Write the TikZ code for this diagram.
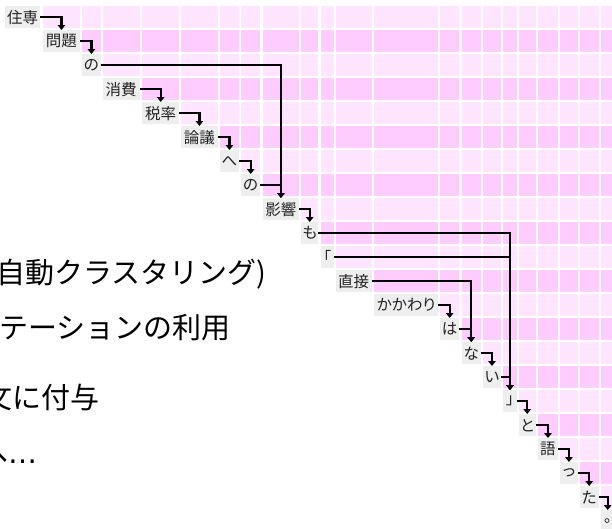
\documentclass[tikz,border=0pt]{standalone}
\usepackage{fontspec}
\newfontfamily\jpw[RawFeature=+palt]{Noto Sans CJK JP}
\newfontfamily\jpb{Noto Sans CJK JP}
\newfontfamily\dvs{DejaVu Sans}
\usetikzlibrary{arrows.meta}
\definecolor{cellA}{HTML}{FFE5FF}
\definecolor{cellB}{HTML}{FFCCFF}
\definecolor{wordbg}{HTML}{EEEEEE}
\definecolor{inkc}{HTML}{222222}
\begin{document}
\begin{tikzpicture}[x=1pt,y=-1pt,
  word/.style={fill=wordbg, anchor=north west, minimum height=22pt, inner sep=0pt, text=inkc, font=\jpw\fontsize{15.5}{15.5}\selectfont},
  dep/.style={draw=black, line width=2.3pt, -{Triangle[length=5pt,width=7.5pt]}},
  big/.style={anchor=base west, inner sep=0pt, font=\jpb\fontsize{29}{29}\selectfont, text=black}]
\useasboundingbox (0,0) rectangle (612,528);
\def\cols{5/40/住専, 42.5/80/問題, 82/100.5/の, 102.5/139.5/消費, 142/179/税率, 181/217.5/論議, 219.5/239/へ, 241/260/の, 262.5/299/影響, 301/318/も, 320.5/333.5/「, 335.5/371.5/直接, 374/438/かかわり, 440/459/は, 461.5/480.5/な, 483/500.5/い, 503/516.5/」, 518.5/535.5/と, 537.5/558/語, 560/577.5/っ, 579.5/598.5/た, 601/614/。}
% grid cells
\foreach \r in {0,...,20}{
  \pgfmathsetmacro\yt{6+24*\r}
  \ifodd\r \def\cc{cellB}\else\def\cc{cellA}\fi
  \foreach \l/\e/\t [count=\c from 0] in \cols {
    \ifnum\c>\r
      \fill[\cc] (\l,\yt) rectangle (\e,{\yt+22});
    \fi
  }
}
% words
\foreach \l/\e/\t [count=\c from 0] in \cols {
  \pgfmathsetmacro\boxw{\e-\l}
  \pgfmathsetmacro\yt{6+24*\c}
  \node[word, minimum width=\boxw pt] (w\c) at (\l,\yt) {\t};
}
% dependencies
\foreach \a/\b in {0/1,1/2,2/8,3/4,4/5,5/6,6/7,7/8,8/9,9/16,10/16,11/14,12/13,13/14,14/15,15/16,16/17,17/18,18/19,19/20,20/21}{
  \draw[dep] (w\a.east) -| (w\b.north);
}
% background slide text
\node[big] (t1) at (-4,283) {自動クラスタリング)};
\node[big] (t2) at (-1,338) {テーションの利用};
\node[big] (t3) at (-17,408) {文に付与};
\node[big] (t4) at (-21,463) {へ{\dvs …}};
\end{tikzpicture}
\end{document}
